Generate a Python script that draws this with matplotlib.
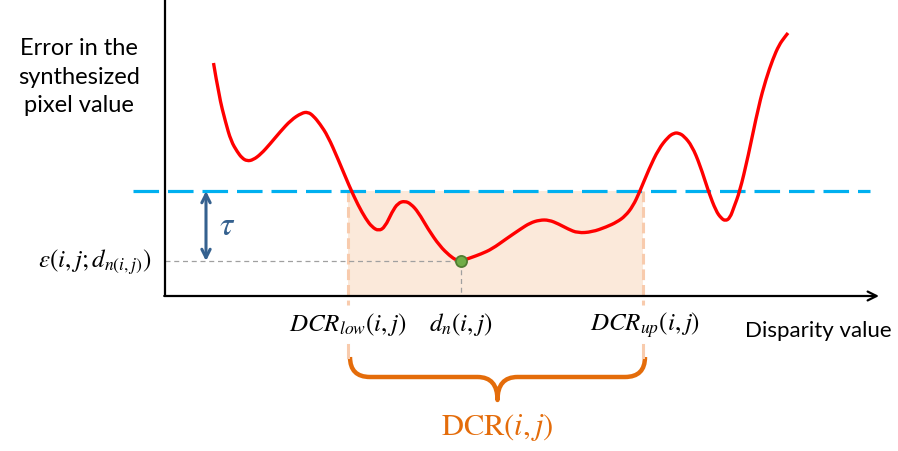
import matplotlib
matplotlib.use("Agg")
import matplotlib.pyplot as plt
from matplotlib.patches import Rectangle, PathPatch
from matplotlib.path import Path

plt.rcParams['mathtext.fontset'] = 'stix'

# curve values (x: disparity, y: error; pixel-like units, y grows downwards)
curve_x = [213.5, 219, 225.5, 231, 237.4, 242, 246.9, 253, 261, 270, 280, 291, 301.6, 308, 313.5,
           320, 327.8, 338, 349.2, 358, 365.9, 372, 378.7, 385, 392, 398, 404.9, 411, 418.2, 428,
           439.7, 450, 456, 461, 470, 481, 492, 506, 520.6, 530, 539.6, 549, 558.7, 568, 577.7,
           592, 606.3, 617, 625.3, 633, 639.6, 649, 658.6, 668, 674, 678.6, 684, 692, 700, 708.6,
           716, 721, 725.3, 730, 734, 739.6, 748, 758.6, 766, 772.9, 779, 784.8, 788]
curve_y = [64, 97, 123, 142, 153, 159, 162, 161, 155, 145, 133, 121, 114, 113, 117,
           125, 137, 160, 187, 206, 220, 228, 232, 228, 213, 204, 202, 205, 213, 230,
           247, 257, 261, 262, 259, 255, 250, 240, 230, 224, 221, 221, 225, 230, 234,
           233, 228, 223, 217, 207, 193, 170, 150, 138, 134, 134, 137, 147, 166, 193,
           212, 219, 222, 219, 208, 193, 158, 107, 80, 60, 46, 38, 34]

tau_level = 192
best_x, best_y = 461, 262
dcr_low, dcr_up = 348, 643

fig = plt.figure(figsize=(8.98, 4.52), dpi=100)
ax = fig.add_axes([0, 0, 1, 1])
ax.set_xlim(0, 898)
ax.set_ylim(452, 0)
ax.axis('off')

# shaded DCR region
ax.add_patch(Rectangle((dcr_low, tau_level), dcr_up - dcr_low, 297 - tau_level,
                       facecolor='#FBE9DA', edgecolor='none', zorder=1))
for xv in (dcr_low, dcr_up):
    ax.plot([xv, xv], [tau_level, 306], color='#F8CBAD', lw=2.2, dashes=(3.5, 1.6), zorder=2)
    ax.plot([xv, xv], [346, 358], color='#F8CBAD', lw=2.2, zorder=2)

# axes
ax.plot([165, 165], [0, 297], color='black', lw=1.6, zorder=5, solid_capstyle='butt')
ax.annotate('', xy=(879, 297), xytext=(164.2, 297),
            arrowprops=dict(arrowstyle='->', color='black', lw=1.6, mutation_scale=16,
                            shrinkA=0, shrinkB=0), zorder=5)

# threshold line
ax.plot([133, 870], [tau_level, tau_level], color='#00B0F0', lw=2.3, dashes=(8, 2.8), zorder=3)

# gray guides
ax.plot([165, best_x], [best_y, best_y], color='#A0A0A0', lw=0.9, dashes=(4, 3), zorder=2)
ax.plot([best_x, best_x], [best_y, 297], color='#A0A0A0', lw=0.9, dashes=(4, 3), zorder=2)

# curve: smooth rendering through the read points (quadratic Bezier segments between midpoints)
pts = list(zip(curve_x, curve_y))
verts = [pts[0]]
codes = [Path.MOVETO]
for i in range(1, len(pts) - 1):
    mx = (pts[i][0] + pts[i + 1][0]) / 2
    my = (pts[i][1] + pts[i + 1][1]) / 2
    verts += [pts[i], (mx, my)]
    codes += [Path.CURVE3, Path.CURVE3]
verts.append(pts[-1])
codes.append(Path.LINETO)
ax.add_patch(PathPatch(Path(verts, codes), facecolor='none', edgecolor='#FF0000', lw=2.4,
                       joinstyle='round', capstyle='butt', zorder=4))
ax.plot([best_x], [best_y], 'o', ms=8, mfc='#70AD47', mec='#507E32', mew=1.3, zorder=6)

# tau arrow
ax.annotate('', xy=(206, tau_level), xytext=(206, best_y),
            arrowprops=dict(arrowstyle='<->', color='#35618F', lw=2.2, mutation_scale=15,
                            shrinkA=0, shrinkB=0), zorder=5)
ax.text(219, 226, r'$\tau$', color='#35618F', fontsize=24, ha='left', va='center')

# texts
ax.text(79, 77, 'Error in the\nsynthesized\npixel value', fontsize=17, family='Lato',
        ha='center', va='center', linespacing=1.45)
ax.text(818, 331, 'Disparity value', fontsize=16, family='Lato', ha='center', va='center')
ax.text(152, 262, r'$\varepsilon\left(i,j;d_{n(i,j)}\right)$', fontsize=18, ha='right', va='center')
ax.text(dcr_low, 325, r'$DCR_{low}(i,j)$', fontsize=18, ha='center', va='center')
ax.text(best_x, 325, r'$d_n(i,j)$', fontsize=18, ha='center', va='center')
ax.text(dcr_up + 2, 325, r'$DCR_{up}(i,j)$', fontsize=18, ha='center', va='center')

# brace
L, R, top, mid, tip = 350, 645, 358, 378, 401
cx = (L + R) / 2
bverts = [(L, top), (L, mid), (L + 20, mid), (L + 20, mid),
          (cx - 20, mid), (cx, mid), (cx, tip),
          (cx, mid), (cx + 20, mid), (cx + 20, mid),
          (R - 20, mid), (R, mid), (R, top)]
bcodes = [Path.MOVETO, Path.CURVE3, Path.CURVE3, Path.LINETO,
          Path.LINETO, Path.CURVE3, Path.CURVE3,
          Path.CURVE3, Path.CURVE3, Path.LINETO,
          Path.LINETO, Path.CURVE3, Path.CURVE3]
ax.add_patch(PathPatch(Path(bverts, bcodes), facecolor='none', edgecolor='#E46C0A', lw=3.2,
                       capstyle='butt', joinstyle='round'))
ax.text(cx, 428, r'$\mathrm{DCR}\mathit{(i,j)}$', color='#E46C0A', fontsize=22,
        ha='center', va='center')

fig.savefig('out.png', dpi=100)
